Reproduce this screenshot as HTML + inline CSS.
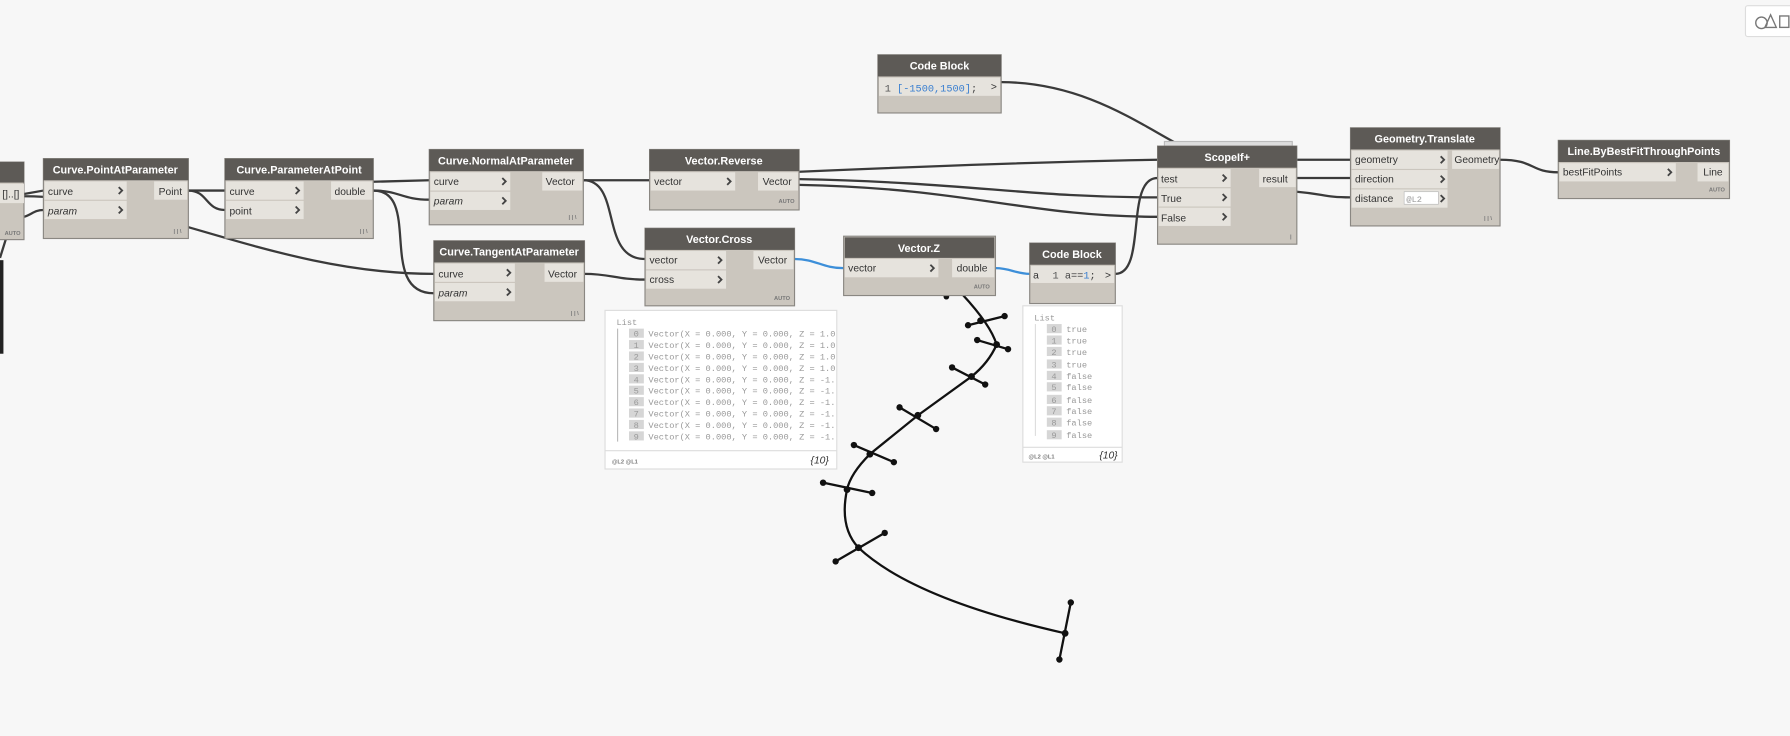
<!DOCTYPE html>
<html><head><meta charset="utf-8"><style>
html,body{margin:0;padding:0;background:#f7f7f7;overflow:hidden}
svg{display:block}
.t{font-family:"Liberation Sans",sans-serif;font-size:9.5px;font-weight:bold;fill:#fff}
.p{font-family:"Liberation Sans",sans-serif;font-size:9px;fill:#333}
.pi{font-family:"Liberation Sans",sans-serif;font-size:9px;fill:#333;font-style:italic}
.a{font-family:"Liberation Sans",sans-serif;font-size:5px;font-weight:bold;fill:#777}
.m{font-family:"Liberation Mono",monospace;font-size:7.6px;fill:#999}
.c{font-family:"Liberation Mono",monospace;font-size:9px;fill:#555}
.w{fill:none;stroke:#3a3a3a;stroke-width:2}
.b{fill:none;stroke:#3d8fd9;stroke-width:2}
.nb{fill:#cbc6be;stroke:#8a8782;stroke-width:1}
.hd{fill:#5d5a56}
.pr{fill:#e6e3dd}
.ch{fill:none;stroke:#444;stroke-width:1.6}
</style></head><body>
<svg width="1790" height="736" viewBox="0 0 1568 645" preserveAspectRatio="none" xmlns="http://www.w3.org/2000/svg">
<defs><path id="cv" d="M0,-3 L3,0 L0,3" class="ch"/></defs>
<rect width="1568" height="645" fill="#f7f7f7"/>
<!-- wires -->
<path class="w" d="M21,170 L38,167"/>
<path class="w" d="M21,190 C28,188 30,184 38,184"/>
<path class="w" d="M5,210 L0,226"/>
<path class="w" d="M21,172 C130,172 240,240 380,240"/>
<path class="w" d="M165,167 L197,167"/>
<path class="w" d="M165,167 C182,167 180,184 197,184"/>
<path class="w" d="M300,160 L376,158"/>
<path class="w" d="M327,167 C350,167 352,175 376,175"/>
<path class="w" d="M327,167 C370,167 330,257 380,257"/>
<path class="w" d="M511,158 L569,158"/>
<path class="w" d="M511,158 C545,158 525,227 565,227"/>
<path class="w" d="M512,240 C535,240 540,245 565,245"/>
<path class="w" d="M600,155 C750,148 900,142 1014,140"/>
<path class="w" d="M700,157 C850,160 900,173 1014,173"/>
<path class="w" d="M700,162 C850,165 900,190 1014,190"/>
<path class="b" d="M696,227 C715,227 720,235 739,235"/>
<path class="b" d="M872,235 C885,235 890,240 902,240"/>
<path class="w" d="M977,240 C1005,240 985,156 1014,156"/>
<path class="w" d="M877,72 C950,72 1000,110 1035,128"/>
<path class="w" d="M1136,140 L1183,140"/>
<path class="w" d="M1136,156 L1183,156"/>
<path class="w" d="M1136,168 C1160,170 1160,173 1183,173"/>
<path class="w" d="M1314,140 C1345,140 1340,151 1365,151"/>
<rect x="0" y="228" width="3" height="82" fill="#222"/>

<!-- geometry curve -->
<g stroke="#111" stroke-width="2" fill="none">
<path d="M843,258 Q868,285 873,302 Q866,318 851,330 L804,364 L762,398 Q745,415 742,429 Q735,462 752,480 Q800,525 933,555"/>
<path d="M848,285 L880,277 M856,298 L883,306 M834,322 L863,337 M788,357 L820,376 M748,390 L783,405 M721,423 L764,432 M732,492 L775,467 M938,528 L928,578"/>
</g>
<g fill="#111">
<circle cx="859" cy="281" r="3"/><circle cx="848" cy="285" r="2.8"/><circle cx="880" cy="277" r="2.8"/>
<circle cx="873" cy="302" r="3"/><circle cx="856" cy="298" r="2.8"/><circle cx="883" cy="306" r="2.8"/>
<circle cx="851" cy="330" r="3"/><circle cx="834" cy="322" r="2.8"/><circle cx="863" cy="337" r="2.8"/>
<circle cx="804" cy="364" r="3"/><circle cx="788" cy="357" r="2.8"/><circle cx="820" cy="376" r="2.8"/>
<circle cx="762" cy="398" r="3"/><circle cx="748" cy="390" r="2.8"/><circle cx="783" cy="405" r="2.8"/>
<circle cx="742" cy="429" r="3"/><circle cx="721" cy="423" r="2.8"/><circle cx="764" cy="432" r="2.8"/>
<circle cx="752" cy="480" r="3"/><circle cx="732" cy="492" r="2.8"/><circle cx="775" cy="467" r="2.8"/>
<circle cx="933" cy="555" r="3"/><circle cx="938" cy="528" r="2.8"/><circle cx="928" cy="578" r="2.8"/>
<circle cx="829" cy="260" r="2.5"/>
</g>

<!-- left partial node -->
<rect class="nb" x="-5" y="142" width="26" height="68"/><rect class="hd" x="-5" y="142" width="26" height="18"/>
<rect class="pr" x="-5" y="161" width="26" height="17"/><text class="p" x="2" y="173">[]..[]</text>
<text class="a" x="4" y="206">AUTO</text>

<!-- Curve.PointAtParameter -->
<rect class="nb" x="38" y="139" width="127" height="70"/><rect class="hd" x="38" y="139" width="127" height="19"/>
<text class="t" x="101" y="152" text-anchor="middle">Curve.PointAtParameter</text>
<rect class="pr" x="39" y="159" width="72" height="16"/><rect class="pr" x="39" y="176" width="72" height="16"/>
<text class="p" x="42" y="171">curve</text><text class="pi" x="42" y="188">param</text>
<use href="#cv" x="104" y="167"/><use href="#cv" x="104" y="184"/>
<rect class="pr" x="135" y="159" width="29" height="16"/><text class="p" x="139" y="171">Point</text>
<text class="a" x="152" y="204">| | \</text>

<!-- Curve.ParameterAtPoint -->
<rect class="nb" x="197" y="139" width="130" height="70"/><rect class="hd" x="197" y="139" width="130" height="19"/>
<text class="t" x="262" y="152" text-anchor="middle">Curve.ParameterAtPoint</text>
<rect class="pr" x="198" y="159" width="68" height="16"/><rect class="pr" x="198" y="176" width="68" height="16"/>
<text class="p" x="201" y="171">curve</text><text class="p" x="201" y="188">point</text>
<use href="#cv" x="259" y="167"/><use href="#cv" x="259" y="184"/>
<rect class="pr" x="290" y="159" width="36" height="16"/><text class="p" x="293" y="171">double</text>
<text class="a" x="315" y="204">| | \</text>

<!-- Curve.NormalAtParameter -->
<rect class="nb" x="376" y="131" width="135" height="66"/><rect class="hd" x="376" y="131" width="135" height="19"/>
<text class="t" x="443" y="144" text-anchor="middle">Curve.NormalAtParameter</text>
<rect class="pr" x="377" y="151" width="70" height="16"/><rect class="pr" x="377" y="168" width="70" height="16"/>
<text class="p" x="380" y="162">curve</text><text class="pi" x="380" y="179">param</text>
<use href="#cv" x="440" y="159"/><use href="#cv" x="440" y="176"/>
<rect class="pr" x="475" y="151" width="35" height="16"/><text class="p" x="478" y="162">Vector</text>
<text class="a" x="498" y="192">| | \</text>

<!-- Curve.TangentAtParameter -->
<rect class="nb" x="380" y="211" width="132" height="70"/><rect class="hd" x="380" y="211" width="132" height="19"/>
<text class="t" x="446" y="224" text-anchor="middle">Curve.TangentAtParameter</text>
<rect class="pr" x="381" y="231" width="70" height="16"/><rect class="pr" x="381" y="248" width="70" height="16"/>
<text class="p" x="384" y="243">curve</text><text class="pi" x="384" y="260">param</text>
<use href="#cv" x="444" y="239"/><use href="#cv" x="444" y="256"/>
<rect class="pr" x="477" y="231" width="34" height="16"/><text class="p" x="480" y="243">Vector</text>
<text class="a" x="500" y="276">| | \</text>

<!-- Vector.Reverse -->
<rect class="nb" x="569" y="131" width="131" height="53"/><rect class="hd" x="569" y="131" width="131" height="19"/>
<text class="t" x="634" y="144" text-anchor="middle">Vector.Reverse</text>
<rect class="pr" x="570" y="151" width="74" height="16"/><text class="p" x="573" y="162">vector</text><use href="#cv" x="637" y="159"/>
<rect class="pr" x="664" y="151" width="35" height="16"/><text class="p" x="668" y="162">Vector</text>
<text class="a" x="682" y="178">AUTO</text>

<!-- Vector.Cross -->
<rect class="nb" x="565" y="200" width="131" height="68"/><rect class="hd" x="565" y="200" width="131" height="19"/>
<text class="t" x="630" y="213" text-anchor="middle">Vector.Cross</text>
<rect class="pr" x="566" y="220" width="70" height="16"/><rect class="pr" x="566" y="237" width="70" height="16"/>
<text class="p" x="569" y="231">vector</text><text class="p" x="569" y="248">cross</text>
<use href="#cv" x="629" y="228"/><use href="#cv" x="629" y="245"/>
<rect class="pr" x="660" y="220" width="35" height="16"/><text class="p" x="664" y="231">Vector</text>
<text class="a" x="678" y="263">AUTO</text>

<!-- Vector.Z -->
<rect class="nb" x="739" y="207" width="133" height="52" stroke="#3d8fd9" stroke-width="2"/><rect class="hd" x="740" y="208" width="131" height="18"/>
<text class="t" x="805" y="221" text-anchor="middle">Vector.Z</text>
<rect class="pr" x="740" y="227" width="82" height="16"/><text class="p" x="743" y="238">vector</text><use href="#cv" x="815" y="235"/>
<rect class="pr" x="834" y="227" width="37" height="16"/><text class="p" x="838" y="238">double</text>
<text class="a" x="853" y="253">AUTO</text>

<!-- Code Block top -->
<rect class="nb" x="769" y="48" width="108" height="51"/><rect class="hd" x="769" y="48" width="108" height="19"/>
<text class="t" x="823" y="61" text-anchor="middle">Code Block</text>
<rect class="pr" x="770" y="68" width="106" height="16"/>
<text class="c" x="775" y="80">1 <tspan fill="#3a7fd0">[-1500,1500]</tspan><tspan fill="#444">;</tspan></text>
<text class="p" x="868" y="79">&gt;</text>

<!-- Code Block small -->
<rect class="nb" x="902" y="213" width="75" height="53"/><rect class="hd" x="902" y="213" width="75" height="19"/>
<text class="t" x="939" y="226" text-anchor="middle">Code Block</text>
<rect class="pr" x="903" y="233" width="73" height="15"/>
<text class="p" x="905" y="244">a</text>
<text class="c" x="922" y="244">1 <tspan fill="#444">a==</tspan><tspan fill="#3a7fd0">1</tspan><tspan fill="#444">;</tspan></text>
<text class="p" x="968" y="244">&gt;</text>

<!-- ScopeIf+ -->
<rect x="1020" y="124" width="112" height="6" fill="#ddd" stroke="#bbb"/>
<rect class="nb" x="1014" y="128" width="122" height="86"/><rect class="hd" x="1014" y="128" width="122" height="19"/>
<text class="t" x="1075" y="141" text-anchor="middle">ScopeIf+</text>
<rect class="pr" x="1015" y="148" width="63" height="16"/><rect class="pr" x="1015" y="165" width="63" height="16"/><rect class="pr" x="1015" y="182" width="63" height="16"/>
<text class="p" x="1017" y="160">test</text><text class="p" x="1017" y="177">True</text><text class="p" x="1017" y="194">False</text>
<use href="#cv" x="1071" y="156"/><use href="#cv" x="1071" y="173"/><use href="#cv" x="1071" y="190"/>
<rect class="pr" x="1103" y="148" width="32" height="16"/><text class="p" x="1106" y="160">result</text>
<text class="a" x="1130" y="209">|</text>

<!-- Geometry.Translate -->
<rect class="nb" x="1183" y="112" width="131" height="86"/><rect class="hd" x="1183" y="112" width="131" height="19"/>
<text class="t" x="1248" y="125" text-anchor="middle">Geometry.Translate</text>
<rect class="pr" x="1184" y="132" width="84" height="16"/><rect class="pr" x="1184" y="149" width="84" height="16"/><rect class="pr" x="1184" y="166" width="84" height="16"/>
<text class="p" x="1187" y="143">geometry</text><text class="p" x="1187" y="160">direction</text><text class="p" x="1187" y="177">distance</text>
<use href="#cv" x="1262" y="140"/><use href="#cv" x="1262" y="157"/><use href="#cv" x="1262" y="174"/>
<rect x="1230" y="168" width="30" height="11" fill="#fff" stroke="#bbb" stroke-width="0.6"/>
<text class="m" x="1232" y="177" font-size="7">@L2</text>
<rect class="pr" x="1272" y="132" width="41" height="16"/><text class="p" x="1274" y="143">Geometry</text>
<text class="a" x="1300" y="193">| | \</text>

<!-- Line.ByBestFitThroughPoints -->
<rect class="nb" x="1365" y="123" width="150" height="51"/><rect class="hd" x="1365" y="123" width="150" height="19"/>
<text class="t" x="1440" y="136" text-anchor="middle">Line.ByBestFitThroughPoints</text>
<rect class="pr" x="1366" y="143" width="102" height="16"/><text class="p" x="1369" y="154">bestFitPoints</text><use href="#cv" x="1461" y="151"/>
<rect class="pr" x="1487" y="143" width="27" height="16"/><text class="p" x="1492" y="154">Line</text>
<text class="a" x="1497" y="168">AUTO</text>

<!-- watch 1 -->
<rect x="530" y="272" width="203" height="139" fill="#fff" stroke="#ddd"/>
<text class="m" x="540" y="285">List</text>
<line x1="541" y1="288" x2="541" y2="387" stroke="#bbb"/>
<line x1="530" y1="395" x2="733" y2="395" stroke="#ddd"/>
<g class="m">
<rect x="551" y="288" width="13" height="8" fill="#d6d6d6"/><text x="555" y="295">0</text><text x="568" y="295">Vector(X = 0.000, Y = 0.000, Z = 1.0</text>
<rect x="551" y="298" width="13" height="8" fill="#d6d6d6"/><text x="555" y="305">1</text><text x="568" y="305">Vector(X = 0.000, Y = 0.000, Z = 1.0</text>
<rect x="551" y="308" width="13" height="8" fill="#d6d6d6"/><text x="555" y="315">2</text><text x="568" y="315">Vector(X = 0.000, Y = 0.000, Z = 1.0</text>
<rect x="551" y="318" width="13" height="8" fill="#d6d6d6"/><text x="555" y="325">3</text><text x="568" y="325">Vector(X = 0.000, Y = 0.000, Z = 1.0</text>
<rect x="551" y="328" width="13" height="8" fill="#d6d6d6"/><text x="555" y="335">4</text><text x="568" y="335">Vector(X = 0.000, Y = 0.000, Z = -1.</text>
<rect x="551" y="338" width="13" height="8" fill="#d6d6d6"/><text x="555" y="345">5</text><text x="568" y="345">Vector(X = 0.000, Y = 0.000, Z = -1.</text>
<rect x="551" y="348" width="13" height="8" fill="#d6d6d6"/><text x="555" y="355">6</text><text x="568" y="355">Vector(X = 0.000, Y = 0.000, Z = -1.</text>
<rect x="551" y="358" width="13" height="8" fill="#d6d6d6"/><text x="555" y="365">7</text><text x="568" y="365">Vector(X = 0.000, Y = 0.000, Z = -1.</text>
<rect x="551" y="368" width="13" height="8" fill="#d6d6d6"/><text x="555" y="375">8</text><text x="568" y="375">Vector(X = 0.000, Y = 0.000, Z = -1.</text>
<rect x="551" y="378" width="13" height="8" fill="#d6d6d6"/><text x="555" y="385">9</text><text x="568" y="385">Vector(X = 0.000, Y = 0.000, Z = -1.</text>
</g>
<text class="a" x="536" y="406" font-size="5.5">@L2 @L1</text>
<text class="pi" x="710" y="406" font-size="8" fill="#a0522d">{10}</text>

<!-- watch 2 -->
<rect x="896" y="268" width="87" height="137" fill="#fff" stroke="#ddd"/>
<text class="m" x="906" y="281">List</text>
<line x1="907" y1="284" x2="907" y2="382" stroke="#ddd"/>
<line x1="896" y1="392" x2="983" y2="392" stroke="#ddd"/>
<g class="m">
<rect x="917" y="284" width="13" height="8" fill="#d6d6d6"/><text x="921" y="291">0</text><text x="934" y="291">true</text>
<rect x="917" y="294" width="13" height="8" fill="#d6d6d6"/><text x="921" y="301">1</text><text x="934" y="301">true</text>
<rect x="917" y="304" width="13" height="8" fill="#d6d6d6"/><text x="921" y="311">2</text><text x="934" y="311">true</text>
<rect x="917" y="315" width="13" height="8" fill="#d6d6d6"/><text x="921" y="322">3</text><text x="934" y="322">true</text>
<rect x="917" y="325" width="13" height="8" fill="#d6d6d6"/><text x="921" y="332">4</text><text x="934" y="332">false</text>
<rect x="917" y="335" width="13" height="8" fill="#d6d6d6"/><text x="921" y="342">5</text><text x="934" y="342">false</text>
<rect x="917" y="346" width="13" height="8" fill="#d6d6d6"/><text x="921" y="353">6</text><text x="934" y="353">false</text>
<rect x="917" y="356" width="13" height="8" fill="#d6d6d6"/><text x="921" y="363">7</text><text x="934" y="363">false</text>
<rect x="917" y="366" width="13" height="8" fill="#d6d6d6"/><text x="921" y="373">8</text><text x="934" y="373">false</text>
<rect x="917" y="377" width="13" height="8" fill="#d6d6d6"/><text x="921" y="384">9</text><text x="934" y="384">false</text>
</g>
<text class="a" x="901" y="402" font-size="5.5">@L2 @L1</text>
<text class="pi" x="963" y="402" font-size="8" fill="#a0522d">{10}</text>

<!-- top right icon -->
<rect x="1529" y="5" width="45" height="27" fill="#fff" stroke="#ddd" rx="2"/>
<circle cx="1543" cy="20" r="5" fill="none" stroke="#777" stroke-width="1.2"/>
<path d="M1546,24 L1551,13 L1556,24 Z" fill="none" stroke="#777" stroke-width="1.2"/>
<rect x="1559" y="14" width="8" height="10" fill="none" stroke="#777" stroke-width="1.2"/>
</svg>
</body></html>
